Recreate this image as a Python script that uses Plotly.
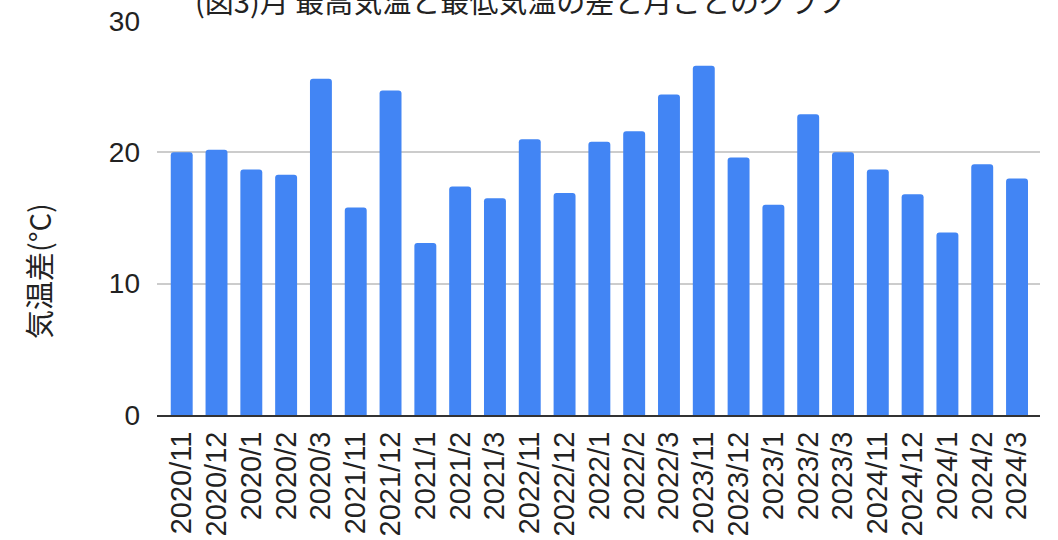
import plotly.graph_objects as go

# Month labels (year/month) and the monthly max-min temperature spread (°C)
months = [
    "2020/11", "2020/12", "2020/1", "2020/2", "2020/3",
    "2021/11", "2021/12", "2021/1", "2021/2", "2021/3",
    "2022/11", "2022/12", "2022/1", "2022/2", "2022/3",
    "2023/11", "2023/12", "2023/1", "2023/2", "2023/3",
    "2024/11", "2024/12", "2024/1", "2024/2", "2024/3",
]
temp_diff = [
    20.0, 20.2, 18.7, 18.3, 25.6,
    15.8, 24.7, 13.1, 17.4, 16.5,
    21.0, 16.9, 20.8, 21.6, 24.4,
    26.6, 19.6, 16.0, 22.9, 20.0,
    18.7, 16.8, 13.9, 19.1, 18.0,
]
y_ticks = [0, 10, 20, 30]

title_text = "(図3)月 最高気温と最低気温の差と月ごとのグラフ"
y_title = "気温差(°C)"

W, H = 1058, 540
m_l, m_r, m_t, m_b = 157, 18, 21, 125
plot_w = W - m_l - m_r
plot_h = H - m_t - m_b

latin = "Liberation Sans, Arial, sans-serif"
cjk = "Noto Sans CJK JP, sans-serif"

fig = go.Figure(
    go.Bar(
        x=list(range(len(months))),
        y=temp_diff,
        marker=dict(color="#4285F4", cornerradius=3, line=dict(width=0)),
        hoverinfo="skip",
    )
)

fig.update_layout(
    template="none",
    width=W,
    height=H,
    margin=dict(l=m_l, r=m_r, t=m_t, b=m_b, pad=0, autoexpand=False),
    paper_bgcolor="white",
    plot_bgcolor="white",
    bargap=0.37,
    showlegend=False,
    font=dict(family=latin, color="#222222"),
)

fig.update_xaxes(
    automargin=False,
    range=[-0.71, len(months) - 1 + 0.66],
    tickmode="array",
    tickvals=list(range(len(months))),
    ticktext=months,
    tickangle=-90,
    tickfont=dict(family=latin, size=29, color="#222222"),
    ticks="",
    ticklabelstandoff=3,
    showgrid=False,
    showline=True,
    linecolor="#333333",
    linewidth=2,
    zeroline=False,
    fixedrange=True,
)

fig.update_yaxes(
    automargin=False,
    range=[0, 30],
    tickmode="array",
    tickvals=y_ticks,
    tickfont=dict(family=latin, size=28, color="#222222"),
    ticks="",
    ticklabelstandoff=16,
    showgrid=True,
    gridcolor="#cccccc",
    gridwidth=2,
    zeroline=False,
    showline=False,
    fixedrange=True,
)

fig.add_annotation(
    text=y_title,
    textangle=-90,
    x=(38 - m_l) / plot_w,
    xref="paper",
    xanchor="center",
    y=(H - m_b - 271) / plot_h,
    yref="paper",
    yanchor="middle",
    showarrow=False,
    font=dict(family=cjk, size=29, color="#222222"),
)

fig.add_annotation(
    text=title_text,
    x=(520 - m_l) / plot_w,
    xref="paper",
    xanchor="center",
    y=(H - m_b + 0) / plot_h,
    yref="paper",
    yanchor="middle",
    showarrow=False,
    font=dict(family=cjk, size=29, color="#222222"),
)

fig.write_html("out.html", config={"displayModeBar": False})
